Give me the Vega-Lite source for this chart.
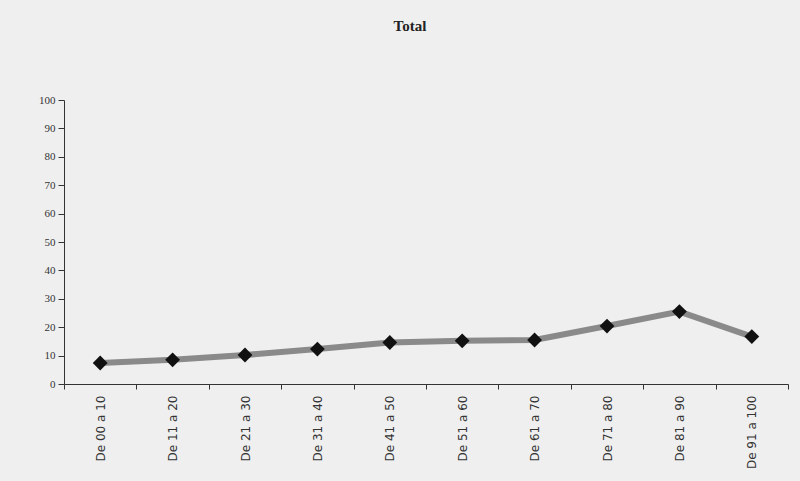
{
  "$schema": "https://vega.github.io/schema/vega-lite/v6.json",
  "autosize": {"type": "none"},
  "width": 724,
  "height": 284,
  "padding": {"left": 64, "top": 100, "right": 12, "bottom": 97},
  "background": "#efefef",
  "title": {
    "text": "Total",
    "font": "Liberation Serif",
    "fontSize": 15,
    "fontWeight": "bold",
    "color": "#222222",
    "anchor": "middle",
    "frame": "group",
    "offset": 60,
    "dx": -16
  },
  "data": {
    "values": [
      {"faixa": "De 00 a 10", "valor": 7.4},
      {"faixa": "De 11 a 20", "valor": 8.5},
      {"faixa": "De 21 a 30", "valor": 10.2},
      {"faixa": "De 31 a 40", "valor": 12.3},
      {"faixa": "De 41 a 50", "valor": 14.6},
      {"faixa": "De 51 a 60", "valor": 15.2},
      {"faixa": "De 61 a 70", "valor": 15.5},
      {"faixa": "De 71 a 80", "valor": 20.4},
      {"faixa": "De 81 a 90", "valor": 25.5},
      {"faixa": "De 91 a 100", "valor": 16.7}
    ]
  },
  "config": {
    "view": {"stroke": null},
    "axis": {"grid": false, "domainColor": "#333333", "tickColor": "#333333", "title": null}
  },
  "encoding": {
    "x": {
      "field": "faixa",
      "type": "ordinal",
      "sort": null,
      "scale": {"paddingInner": 0, "paddingOuter": 0},
      "axis": {
        "labelAngle": -90,
        "labelAlign": "right",
        "labelBaseline": "middle",
        "labelFont": "DejaVu Sans",
        "labelFontSize": 12,
        "labelColor": "#333333",
        "labelPadding": 6,
        "tickBand": "extent",
        "tickSize": 5,
        "domainWidth": 1
      }
    },
    "y": {
      "field": "valor",
      "type": "quantitative",
      "scale": {"domain": [0, 100], "nice": false},
      "axis": {
        "values": [0, 10, 20, 30, 40, 50, 60, 70, 80, 90, 100],
        "labelFont": "Liberation Serif",
        "labelFontSize": 11,
        "labelColor": "#333333",
        "tickSize": 6,
        "labelPadding": 3
      }
    }
  },
  "layer": [
    {"mark": {"type": "line", "color": "#8a8a8a", "strokeWidth": 6}},
    {"mark": {"type": "point", "shape": "diamond", "filled": true, "color": "#111111", "size": 220, "opacity": 1}}
  ]
}
